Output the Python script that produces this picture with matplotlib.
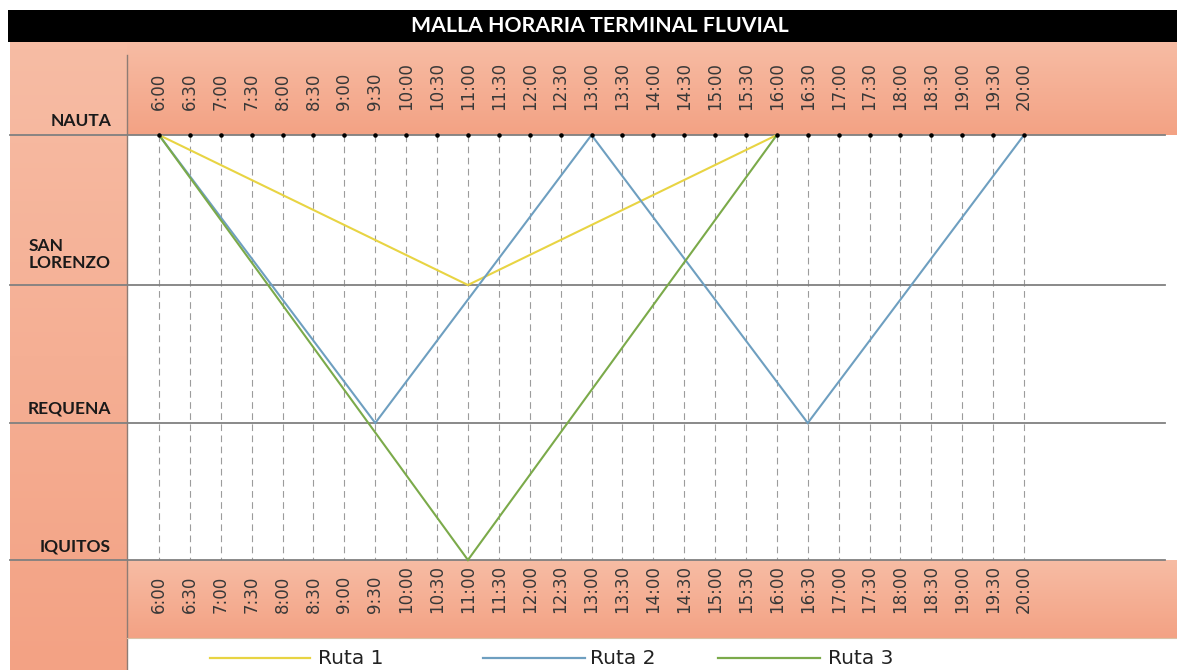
"""
Malla horaria del terminal fluvial: diagrama tiempo-estación de las rutas
Nauta - San Lorenzo - Requena - Iquitos.
"""
import matplotlib
matplotlib.use('Agg')
import matplotlib.pyplot as plt
import matplotlib.patches as patches
from matplotlib.colors import LinearSegmentedColormap
import numpy as np

# --- datos ---------------------------------------------------------------
stations = ['NAUTA', 'SAN\nLORENZO', 'REQUENA', 'IQUITOS']
station_offset = [0.0, 1.50, 2.88, 4.25]      # posición relativa a lo largo del río

hours = np.arange(6.0, 20.01, 0.5)
hour_labels = ['6:00', '6:30', '7:00', '7:30', '8:00', '8:30', '9:00', '9:30',
               '10:00', '10:30', '11:00', '11:30', '12:00', '12:30', '13:00',
               '13:30', '14:00', '14:30', '15:00', '15:30', '16:00', '16:30',
               '17:00', '17:30', '18:00', '18:30', '19:00', '19:30', '20:00']

route_names = ['Ruta 1', 'Ruta 2', 'Ruta 3']
ruta1_times = [6.0, 11.0, 16.0]
ruta1_stops = ['NAUTA', 'SAN\nLORENZO', 'NAUTA']
ruta2_times = [6.0, 9.5, 13.0, 16.5, 20.0]
ruta2_stops = ['NAUTA', 'REQUENA', 'NAUTA', 'REQUENA', 'NAUTA']
ruta3_times = [6.0, 11.0, 16.0]
ruta3_stops = ['NAUTA', 'IQUITOS', 'NAUTA']

ROUTE_COLORS = ['#E8D443', '#6E9FC0', '#7BAA4A']
SALMON_TOP = '#F7BCA4'
SALMON_BOT = '#F3A284'

W, H = 1177, 670
fig = plt.figure(figsize=(W / 100, H / 100), dpi=100)
fig.patch.set_facecolor('white')

# fondo en coordenadas de pixel: barra de título, columna izquierda, franjas de horas
bg = fig.add_axes([0, 0, 1, 1], zorder=0)
bg.set_xlim(0, W)
bg.set_ylim(H, 0)
bg.axis('off')

grad = LinearSegmentedColormap.from_list('salmon', [SALMON_TOP, SALMON_BOT])
ramp = np.linspace(0, 1, 64).reshape(-1, 1)
for (x0, x1, y0, y1) in [(10, 127, 42, 670), (127, W, 42, 135), (127, W, 560, 638)]:
    bg.imshow(ramp, cmap=grad, extent=(x0, x1, y1, y0), aspect='auto',
              interpolation='bilinear', zorder=1)

bg.add_patch(patches.Rectangle((8, 10), W - 8, 32, facecolor='black',
                               edgecolor='none', zorder=2))
bg.text(600, 26.5, 'MALLA HORARIA TERMINAL FLUVIAL', fontsize=15.3,
        fontweight='bold', family='Lato', color='white', ha='center',
        va='center', zorder=3)
bg.plot([127, 127], [55, 670], color='#8E7C74', lw=1, zorder=3)
bg.plot([127, W], [638, 638], color='#D9C2A6', lw=0.8, zorder=3)

# --- diagrama ------------------------------------------------------------
left, right, top, bottom = 127, 1165, 135, 560
ax = fig.add_axes([left / W, 1 - bottom / H, (right - left) / W, (bottom - top) / H],
                  zorder=1)
ax.set_facecolor('none')
px_per_hour = (1024 - 159) / 14.0
ax.set_xlim(6.0 - (159 - left) / px_per_hour, 20.0 + (right - 1024) / px_per_hour)
ax.set_ylim(station_offset[-1], station_offset[0])
ax.axis('off')

ax.vlines(hours, station_offset[0], station_offset[-1], colors='#9C9C9C',
          lw=0.8, linestyles=(0, (6, 4)), zorder=1)
x_ext = (10 - left) / (right - left)
for pos in station_offset:
    ax.axhline(pos, xmin=x_ext, xmax=1, color='#808080', lw=1.3,
               clip_on=False, zorder=2)
ax.scatter(hours, [station_offset[0]] * len(hours), s=5, color='black',
           zorder=6, clip_on=False)

pos_of = dict(zip(stations, station_offset))
routes = [(ruta1_times, ruta1_stops), (ruta2_times, ruta2_stops),
          (ruta3_times, ruta3_stops)]
order = [0, 2, 1]
for i in order:
    t, s = routes[i]
    ax.plot(t, [pos_of[k] for k in s], color=ROUTE_COLORS[i], lw=1.5,
            zorder=3 + i, clip_on=False, solid_joinstyle='miter')

# etiquetas de hora arriba y abajo
xt = ax.get_xaxis_transform()
for h, lab in zip(hours, hour_labels):
    ax.text(h, 1 + 25 / 425, lab, transform=xt, rotation=90, ha='center',
            va='bottom', fontsize=12, color='#383838', clip_on=False)
    ax.text(h, -53 / 425, lab, transform=xt, rotation=90, ha='center',
            va='bottom', fontsize=12, color='#383838', clip_on=False)

# nombres de estación en la columna izquierda
yt = ax.get_yaxis_transform()
name_lift = {'NAUTA': 4, 'SAN\nLORENZO': 10, 'REQUENA': 5, 'IQUITOS': 4}
for name, pos in zip(stations, station_offset):
    ax.annotate(name, xy=((111 - left) / (right - left), pos), xycoords=yt,
                xytext=(0, name_lift[name]), textcoords='offset points',
                ha='right', va='bottom', multialignment='left',
                fontsize=12.5, fontweight='bold', family='Lato',
                color='#1A1A1A', linespacing=1.1, annotation_clip=False)

# leyenda
legend_x = [(210, 310, 318), (483, 585, 590), (718, 820, 828)]
for (x0, x1, xtxt), name, col in zip(legend_x, route_names, ROUTE_COLORS):
    bg.plot([x0, x1], [658, 658], color=col, lw=1.6, zorder=3)
    bg.text(xtxt, 658, name, fontsize=14.5, color='#222222', ha='left',
            va='center', zorder=3)

fig.savefig('out.png', dpi=100, facecolor=fig.get_facecolor())
plt.close(fig)
